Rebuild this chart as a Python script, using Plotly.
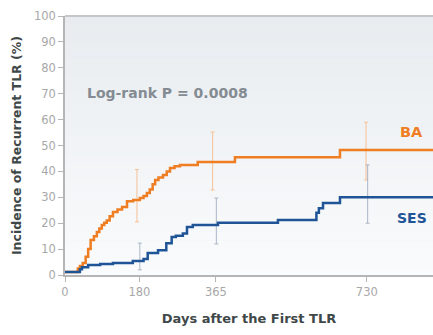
import plotly.graph_objects as go

# ---- data ----
ba_days = [0, 31, 36, 43, 50, 56, 62, 70, 77, 83, 89, 95, 101, 108, 116, 127, 138, 150, 165, 181, 190, 198, 205, 212, 218, 226, 237, 246, 254, 265, 278, 321, 411, 665, 890]
ba_vals = [1.2, 2.5, 3.5, 4.6, 7, 10, 13.5, 15, 16.6, 18, 19.3, 20.2, 21, 22.7, 24.3, 25.3, 26.3, 28.5, 29, 29.7, 30.5, 31.7, 33, 35, 36.7, 37.6, 38.6, 40, 41.3, 42, 42.5, 43.6, 45.5, 48.3, 48.3]

ses_days = [0, 36, 41, 56, 85, 116, 164, 190, 200, 225, 245, 258, 268, 285, 295, 309, 370, 515, 608, 614, 624, 665, 890]
ses_vals = [1.2, 2.2, 3.0, 3.9, 4.2, 4.6, 5.4, 6.2, 8.5, 9.6, 12.3, 14.7, 15.2, 16, 18.5, 19.3, 20.2, 21.2, 24, 25.8, 27.8, 30, 30]

ba_bar_days = [174, 357, 728]
ba_bar_vals = [29.7, 43.6, 48.3]
ba_bar_plus = [11, 11.6, 10.7]
ba_bar_minus = [9.2, 10.8, 11.6]

ses_bar_days = [181, 366, 732]
ses_bar_vals = [6.2, 20.2, 30]
ses_bar_plus = [6.1, 9.5, 12.5]
ses_bar_minus = [4.2, 8.2, 10]

x_tick_vals = [0, 180, 365, 730]
y_tick_vals = [0, 10, 20, 30, 40, 50, 60, 70, 80, 90, 100]

ORANGE = "#ef7d22"
BLUE = "#1f5597"
FONT = "DejaVu Sans"

fig = go.Figure()

# soft vertical background gradient (styling only)
n_bands = 30
top_rgb = (232, 236, 240)
bot_rgb = (250, 251, 252)
for i in range(n_bands):
    t = i / (n_bands - 1)
    c = tuple(round(top_rgb[k] + (bot_rgb[k] - top_rgb[k]) * t) for k in range(3))
    fig.add_shape(type="rect", xref="paper", yref="paper", x0=0, x1=1,
                  y0=1 - (i + 1) / n_bands, y1=1 - i / n_bands,
                  fillcolor="rgb(%d,%d,%d)" % c, line=dict(width=0), layer="below")

fig.add_trace(go.Scatter(x=ba_bar_days, y=ba_bar_vals, mode="markers",
                         marker=dict(size=0.1, color="rgba(0,0,0,0)"),
                         error_y=dict(type="data", symmetric=False, array=ba_bar_plus,
                                      arrayminus=ba_bar_minus, color="#f6c096", thickness=1, width=2),
                         showlegend=False, hoverinfo="skip"))
fig.add_trace(go.Scatter(x=ses_bar_days, y=ses_bar_vals, mode="markers",
                         marker=dict(size=0.1, color="rgba(0,0,0,0)"),
                         error_y=dict(type="data", symmetric=False, array=ses_bar_plus,
                                      arrayminus=ses_bar_minus, color="#a9b5c6", thickness=1, width=2),
                         showlegend=False, hoverinfo="skip"))

fig.add_trace(go.Scatter(x=ba_days, y=ba_vals, mode="lines", line=dict(shape="hv", color=ORANGE, width=2.5),
                         showlegend=False))
fig.add_trace(go.Scatter(x=ses_days, y=ses_vals, mode="lines", line=dict(shape="hv", color=BLUE, width=2.5),
                         showlegend=False))

fig.add_annotation(x=838, y=55.2, text="<b>BA</b>", showarrow=False,
                   font=dict(family=FONT, size=14.5, color=ORANGE))
fig.add_annotation(x=838, y=22, text="<b>SES</b>", showarrow=False,
                   font=dict(family=FONT, size=14, color=BLUE))
fig.add_annotation(x=48, y=70.3, text="<b>Log-rank P = 0.0008</b>", showarrow=False, xanchor="left",
                   font=dict(family=FONT, size=14, color="#848b92"))

fig.update_layout(
    width=433, height=335,
    margin=dict(l=65, r=0, t=16, b=60),
    paper_bgcolor="white",
    plot_bgcolor="#eff2f5",
    font=dict(family=FONT, size=12, color="#a8a8a8"),
    xaxis=dict(range=[0, 890], tickvals=x_tick_vals, ticks="outside", ticklen=5, tickcolor="#b5b5b5",
               showgrid=False, zeroline=False, showline=True, linecolor="#b5b5b5", linewidth=1.5,
               tickfont=dict(size=11.5, color="#a8a8a8"),
               title=dict(text="<b>Days after the First TLR</b>", font=dict(size=13, color="#3f4848"), standoff=16)),
    yaxis=dict(range=[0, 100], tickvals=y_tick_vals, ticks="outside", ticklen=5, tickcolor="#b5b5b5",
               showgrid=False, zeroline=False, showline=True, linecolor="#b5b5b5", linewidth=1.5, mirror=False,
               tickfont=dict(size=11.5, color="#a8a8a8"),
               title=dict(text="<b>Incidence of Recurrent TLR (%)</b>", font=dict(size=12.5, color="#3f4848"), standoff=10)),
)
# top border
fig.add_shape(type="line", xref="paper", yref="paper", x0=0, x1=1, y0=1, y1=1,
              line=dict(color="#c4c6c8", width=2))

fig.write_html("out.html", config={"displayModeBar": False},
               post_script="document.body.style.margin='0';document.body.style.overflow='hidden';")
